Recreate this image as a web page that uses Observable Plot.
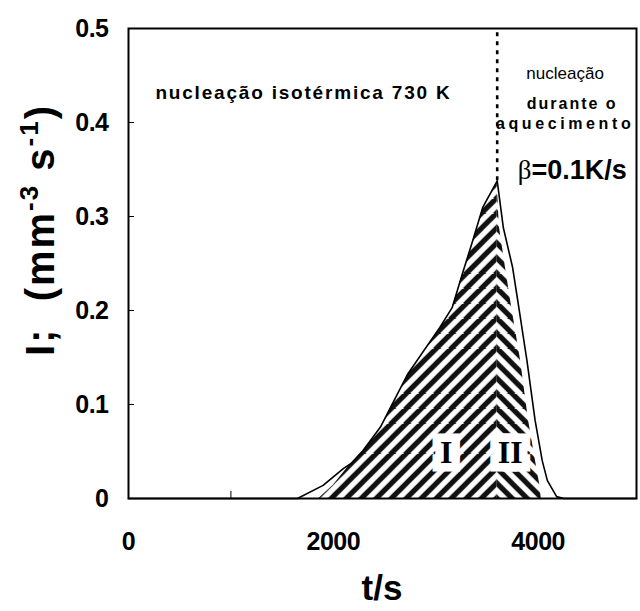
<!DOCTYPE html>
<html><head><meta charset="utf-8">
<script src="https://cdn.jsdelivr.net/npm/d3@7"></script>
<script src="https://cdn.jsdelivr.net/npm/@observablehq/plot@0.6"></script>
<style>body{margin:0;background:#fff} svg{display:block}</style>
</head><body><div id="chart"></div>
<script>
// ---- data ----
const curveT = [0, 1650, 1900, 2100, 2170, 2290, 2460, 2630, 2730, 3040, 3160, 3260, 3360, 3460, 3600, 3660, 3750, 3800, 3890, 3970, 4040, 4090, 4180, 4250, 4960];
const curveI = [0, 0, 0.014, 0.032, 0.037, 0.051, 0.076, 0.112, 0.133, 0.182, 0.203, 0.239, 0.274, 0.310, 0.338, 0.288, 0.246, 0.211, 0.147, 0.083, 0.040, 0.019, 0.002, 0, 0];
const regionIT = [1860, 2000, 2140, 2290, 2460, 2630, 2730, 3040, 3160, 3260, 3360, 3460, 3600];
const regionII_ = [0, 0.014, 0.033, 0.050, 0.075, 0.111, 0.132, 0.181, 0.202, 0.238, 0.273, 0.309, 0.336];
const regionIIT = [3600, 3620, 3680, 3730, 3828, 3906, 3974, 4015, 4030];
const regionIII = [0.336, 0.29, 0.246, 0.211, 0.147, 0.083, 0.040, 0.015, 0];
const seamT = 3600;
const xDomain = [0, 4960];
const yDomain = [0, 0.5];
const xTickValues = [0, 2000, 4000];
const xTickLabels = ["0", "2000", "4000"];
const xTickMarks = [1000, 2000, 3000, 4000];
const yTickValues = [0, 0.1, 0.2, 0.3, 0.4, 0.5];
const yTickLabels = ["0", "0.1", "0.2", "0.3", "0.4", "0.5"];
const xLabel = "t/s";
const yLabelParts = ["I;  (mm", "-3", " s", "-1", ")"];
const annotText = ["nucleação isotérmica 730 K", "nucleação", "durante o", "aquecimento", "β=0.1K/s"];
const annotT = [263, 4263, 4332, 4263, 4332];
const annotI = [0.432, 0.452, 0.420, 0.399, 0.349];
const regionLabels = ["I", "II"];
const regionLabelT = [3102, 3727];
const regionLabelI = [0.049, 0.049];

// ---- tables ----
const curve = curveT.map((t, i) => ({t, v: curveI[i]}));
const regI = regionIT.map((t, i) => ({t, v: regionII_[i]}));
const regII = regionIIT.map((t, i) => ({t, v: regionIII[i]}));
const peak = d3.max(curveI);
const xFmt = new Map(xTickValues.map((v, i) => [v, xTickLabels[i]]));
const yFmt = new Map(yTickValues.map((v, i) => [v, yTickLabels[i]]));
const FONT = "Liberation Sans, Arial, sans-serif";

function annot(i, opts) {
  return Plot.text([i], {x: d => annotT[d], y: d => annotI[d], text: d => annotText[d], fontFamily: FONT, fill: "black", ...opts});
}

const plot = Plot.plot({
  width: 640, height: 611,
  marginTop: 28, marginBottom: 113, marginLeft: 128, marginRight: 4,
  style: {fontFamily: FONT, background: "white", color: "black"},
  x: {domain: xDomain},
  y: {domain: yDomain},
  marks: [
    Plot.axisX({ticks: xTickMarks, tickSize: -7, text: null, label: null, strokeWidth: 1}),
    Plot.axisY({ticks: yTickValues.slice(1, -1), tickSize: -6, text: null, label: null, strokeWidth: 1}),
    Plot.axisX({ticks: xTickValues, tickSize: 0, tickPadding: 34, tickFormat: d => xFmt.get(d), label: null, fontSize: 25, fontWeight: "bold"}),
    Plot.axisY({ticks: yTickValues, tickSize: 0, tickPadding: 20, tickFormat: d => yFmt.get(d), label: null, fontSize: 25, fontWeight: "bold"}),
    Plot.areaY(regI, {x: "t", y: "v", fill: "url(#hatchI)", curve: "linear"}),
    Plot.areaY(regII, {x: "t", y: "v", fill: "url(#hatchII)", curve: "linear"}),
    Plot.line(curve, {x: "t", y: "v", stroke: "black", strokeWidth: 1.6}),
    Plot.ruleX([seamT], {y1: peak, y2: yDomain[1], stroke: "black", strokeWidth: 2.6, strokeDasharray: "4,5"}),
    Plot.frame({stroke: "black", strokeWidth: 2}),
    Plot.text([0, 1], {x: d => regionLabelT[d], y: d => regionLabelI[d], text: d => regionLabels[d], fontFamily: "Liberation Serif, Times New Roman, serif", fontWeight: "bold", fontSize: 32, fill: "black", stroke: "white", strokeWidth: 17, strokeLinejoin: "miter"}),
    annot(0, {textAnchor: "start", fontSize: 19, fontWeight: "bold"}),
    annot(1, {fontSize: 17}),
    annot(2, {fontSize: 16, fontWeight: "bold"}),
    annot(3, {fontSize: 16, fontWeight: "bold"}),
    annot(4, {fontSize: 27, fontWeight: "bold"})
  ]
});

const svg = d3.select(plot);
const sx = plot.scale("x"), sy = plot.scale("y");
const x0 = sx.apply(seamT), y0 = sy.apply(0);
const w = 15;
const defs = svg.insert("defs", ":first-child");
function pattern(id, d) {
  const p = defs.append("pattern").attr("id", id).attr("patternUnits", "userSpaceOnUse")
    .attr("width", w).attr("height", w).attr("x", x0).attr("y", y0);
  p.append("rect").attr("width", w).attr("height", w).attr("fill", "white");
  p.append("path").attr("d", d).attr("stroke", "#111").attr("stroke-width", 5.2).attr("fill", "none");
}
pattern("hatchI", `M0,${w}L${w},0M-4,4L4,-4M${w-4},${w+4}L${w+4},${w-4}`);
pattern("hatchII", `M0,0L${w},${w}M${w-4},-4L${w+4},4M-4,${w-4}L4,${w+4}`);

function byText(s) { return svg.selectAll("text").filter(function() { return this.textContent === s; }); }
svg.selectAll('g[aria-label$="tick label"] text').style("letter-spacing", "-0.5px");
byText(annotText[0]).style("letter-spacing", "1.8px");
byText(annotText[2]).style("letter-spacing", "2px");
byText(annotText[3]).style("letter-spacing", "3.6px");
const bt = byText(annotText[4]);
if (!bt.empty()) {
  const bstr = bt.text();
  bt.text(null);
  bt.append("tspan").attr("font-family", "Liberation Serif, Times New Roman, serif").attr("font-weight", "normal").text(bstr.slice(0, 1));
  bt.append("tspan").text(bstr.slice(1));
}

// axis titles
const cx = (sx.range[0] + sx.range[1]) / 2;
svg.append("text").attr("x", cx).attr("y", 600).attr("text-anchor", "middle")
  .attr("font-family", FONT).attr("font-weight", "bold").attr("font-size", 35).text(xLabel);
const yl = svg.append("text").attr("transform", "translate(54,230) rotate(-90)").attr("text-anchor", "middle")
  .attr("font-family", FONT).attr("font-weight", "bold").attr("font-size", 40).style("letter-spacing", "2px");
yl.append("tspan").text(yLabelParts[0]);
yl.append("tspan").attr("font-size", 26).attr("dy", -16).text(yLabelParts[1]);
yl.append("tspan").attr("dy", 16).text(yLabelParts[2]);
yl.append("tspan").attr("font-size", 26).attr("dy", -16).text(yLabelParts[3]);
yl.append("tspan").attr("dy", 16).text(yLabelParts[4]);

document.getElementById("chart").appendChild(plot);
</script>
</body></html>
